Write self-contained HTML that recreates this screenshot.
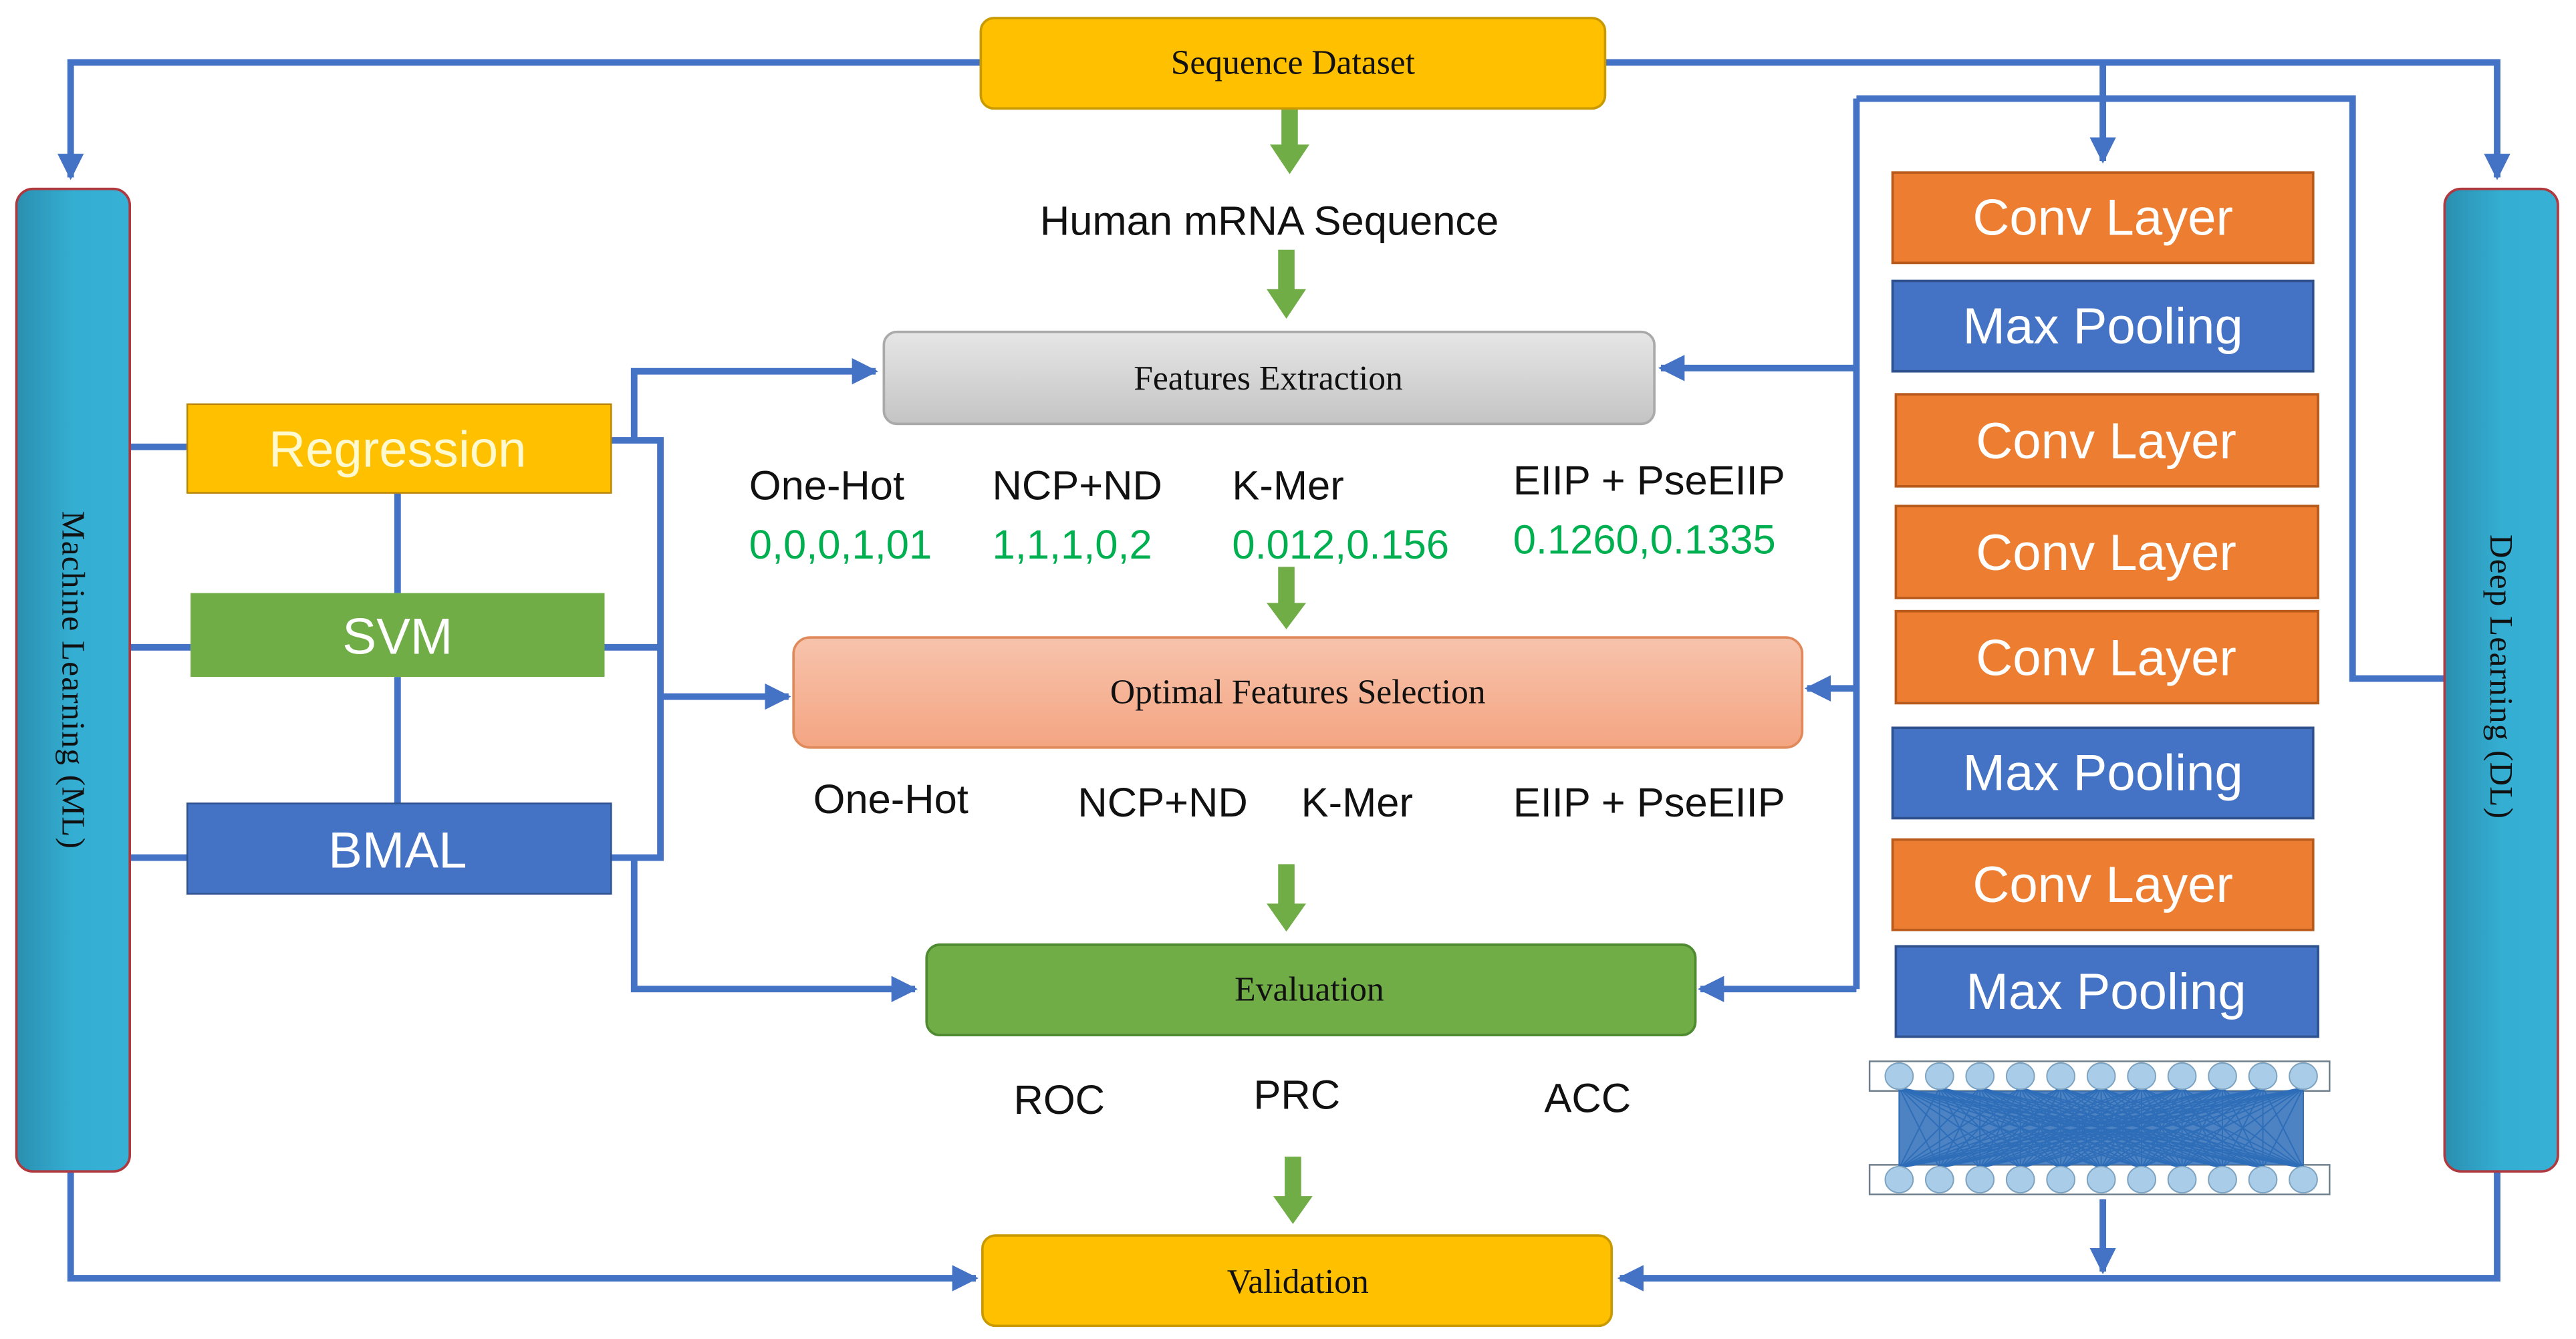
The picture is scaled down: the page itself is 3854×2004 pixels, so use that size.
<!DOCTYPE html>
<html><head><meta charset="utf-8"><style>html,body{margin:0;padding:0;background:#fff}svg{display:block}</style></head>
<body>
<svg id="s" width="3854" height="2004" viewBox="0 0 1568 815" preserveAspectRatio="none" xmlns="http://www.w3.org/2000/svg">
<defs>
<linearGradient id="teal" x1="0" x2="1" y1="0" y2="0"><stop offset="0" stop-color="#2a8fb0"/><stop offset="0.5" stop-color="#34aed2"/><stop offset="1" stop-color="#36b0d4"/></linearGradient>
<linearGradient id="gray" x1="0" x2="0" y1="0" y2="1"><stop offset="0" stop-color="#e6e6e6"/><stop offset="1" stop-color="#c4c4c4"/></linearGradient>
<linearGradient id="sal" x1="0" x2="0" y1="0" y2="1"><stop offset="0" stop-color="#f7c3ac"/><stop offset="1" stop-color="#f4a582"/></linearGradient>
<marker id="ab" viewBox="0 0 10 10" refX="9" refY="5" markerWidth="4" markerHeight="4" orient="auto" markerUnits="strokeWidth"><path d="M0,0L10,5L0,10z" fill="#4472c4"/></marker>
</defs>
<g fill="none" stroke="#4472c4" stroke-width="4">
<!-- top connectors -->
<path d="M597,38H43V108" marker-end="url(#ab)"/>
<path d="M977,38H1520V108" marker-end="url(#ab)"/>
<path d="M1280,38V98" marker-end="url(#ab)"/>
<!-- bottom -->
<path d="M43,713V778H594" marker-end="url(#ab)"/>
<path d="M1520,713V778H986" marker-end="url(#ab)"/>
<path d="M1280,730V774" marker-end="url(#ab)"/>
<!-- ML side -->
<path d="M79,272H114M79,394H116M79,522H114"/>
<path d="M242,300V361M242,412V489"/>
<path d="M372,268H402V522H372M368,394H402"/>
<path d="M402,424H480" marker-end="url(#ab)"/>
<path d="M386,268V226H533" marker-end="url(#ab)"/>
<path d="M386,522V602H557" marker-end="url(#ab)"/>
<!-- DL side -->
<path d="M1130,60V602"/>
<path d="M1130,60H1432V413H1488"/>
<path d="M1130,224H1011" marker-end="url(#ab)"/>
<path d="M1130,419H1100" marker-end="url(#ab)"/>
<path d="M1130,602H1035" marker-end="url(#ab)"/>
</g>
<!-- green arrows -->
<g fill="#70ad47">
<path d="M780,66h10v22h7l-12,18l-12,-18h7z"/>
<path d="M778,152h10v24h7l-12,18l-12,-18h7z"/>
<path d="M778,345h10v22h7l-12,16l-12,-16h7z"/>
<path d="M778,526h10v24h7l-12,17l-12,-17h7z"/>
<path d="M782,704h10v24h7l-12,17l-12,-17h7z"/>
</g>
<!-- bars -->
<rect x="10" y="115" width="69" height="598" rx="10" fill="url(#teal)" stroke="#b0383f" stroke-width="1.5"/>
<rect x="1488" y="115" width="69" height="598" rx="10" fill="url(#teal)" stroke="#b0383f" stroke-width="1.5"/>
<text transform="translate(38,414) rotate(90)" text-anchor="middle" font-family="Liberation Serif,serif" font-size="20" fill="#111" letter-spacing="0.5">Machine  Learning  (ML)</text>
<text transform="translate(1516,412) rotate(90)" text-anchor="middle" font-family="Liberation Serif,serif" font-size="20" fill="#111" letter-spacing="0.5">Deep  Learning  (DL)</text>
<!-- central boxes -->
<rect x="597" y="11" width="380" height="55" rx="8" fill="#ffc000" stroke="#c99a00" stroke-width="1.5"/>
<rect x="538" y="202" width="469" height="56" rx="8" fill="url(#gray)" stroke="#aaa" stroke-width="1.5"/>
<rect x="483" y="388" width="614" height="67" rx="10" fill="url(#sal)" stroke="#e08a5c" stroke-width="1.5"/>
<rect x="564" y="575" width="468" height="55" rx="8" fill="#70ad47" stroke="#4f8a30" stroke-width="1.5"/>
<rect x="598" y="752" width="383" height="55" rx="8" fill="#ffc000" stroke="#c99a00" stroke-width="1.5"/>
<g font-family="Liberation Serif,serif" font-size="21" fill="#111" text-anchor="middle">
<text x="787" y="45">Sequence Dataset</text>
<text x="772" y="237">Features Extraction</text>
<text x="790" y="428">Optimal  Features  Selection</text>
<text x="797" y="609">Evaluation</text>
<text x="790" y="787">Validation</text>
</g>
<!-- ML boxes -->
<rect x="114" y="246" width="258" height="54" fill="#ffc000" stroke="#b8860b" stroke-width="1"/>
<rect x="116" y="361" width="252" height="51" fill="#70ad47"/>
<rect x="114" y="489" width="258" height="55" fill="#4472c4" stroke="#2f528f" stroke-width="1"/>
<g font-family="Liberation Sans Narrow,Liberation Sans,sans-serif" font-size="31" text-anchor="middle">
<text x="242" y="284" fill="#fff9d0">Regression</text>
<text x="242" y="398" fill="#fff">SVM</text>
<text x="242" y="528" fill="#fff">BMAL</text>
</g>
<!-- CNN stack -->
<g stroke-width="1.5">
<rect x="1152" y="105" width="256" height="55" fill="#ed7d31" stroke="#b85a1c"/>
<rect x="1152" y="171" width="256" height="55" fill="#4472c4" stroke="#2f528f"/>
<rect x="1154" y="240" width="257" height="56" fill="#ed7d31" stroke="#b85a1c"/>
<rect x="1154" y="308" width="257" height="56" fill="#ed7d31" stroke="#b85a1c"/>
<rect x="1154" y="372" width="257" height="56" fill="#ed7d31" stroke="#b85a1c"/>
<rect x="1152" y="443" width="256" height="55" fill="#4472c4" stroke="#2f528f"/>
<rect x="1152" y="511" width="256" height="55" fill="#ed7d31" stroke="#b85a1c"/>
<rect x="1154" y="576" width="257" height="55" fill="#4472c4" stroke="#2f528f"/>
</g>
<g font-family="Liberation Sans Narrow,Liberation Sans,sans-serif" font-size="31" fill="#fff" text-anchor="middle">
<text x="1280" y="143">Conv Layer</text>
<text x="1280" y="209">Max Pooling</text>
<text x="1282" y="279">Conv Layer</text>
<text x="1282" y="347">Conv Layer</text>
<text x="1282" y="411">Conv Layer</text>
<text x="1280" y="481">Max Pooling</text>
<text x="1280" y="549">Conv Layer</text>
<text x="1282" y="614">Max Pooling</text>
</g>
<!-- NN -->
<g id="nn">
<rect x="1138" y="646" width="280" height="18" fill="#fff" stroke="#6d7f8c" stroke-width="1"/>
<rect x="1138" y="709" width="280" height="18" fill="#fff" stroke="#6d7f8c" stroke-width="1"/>
<rect x="1156" y="664" width="246" height="45" fill="#2e6db8" opacity="0.85"/>
<g id="lines" stroke="#2e6db8" stroke-width="0.8"></g>
<g id="circ" fill="#a9cde8" stroke="#7ea3c0" stroke-width="0.8"></g>
</g>
<!-- labels -->
<g font-family="Liberation Sans Narrow,Liberation Sans,sans-serif" font-size="25" fill="#111">
<text x="633" y="143">Human mRNA Sequence</text>
<text x="456" y="304">One-Hot</text>
<text x="604" y="304">NCP+ND</text>
<text x="750" y="304">K-Mer</text>
<text x="921" y="301">EIIP + PseEIIP</text>
<text x="495" y="495">One-Hot</text>
<text x="656" y="497">NCP+ND</text>
<text x="792" y="497">K-Mer</text>
<text x="921" y="497">EIIP + PseEIIP</text>
<text x="617" y="678">ROC</text>
<text x="763" y="675">PRC</text>
<text x="940" y="677">ACC</text>
</g>
<g font-family="Liberation Sans Narrow,Liberation Sans,sans-serif" font-size="25" fill="#00b050">
<text x="456" y="340">0,0,0,1,01</text>
<text x="604" y="340">1,1,1,0,2</text>
<text x="750" y="340">0.012,0.156</text>
<text x="921" y="337">0.1260,0.1335</text>
</g>
</svg>
<script>
var ns="http://www.w3.org/2000/svg",L=document.getElementById("lines"),C=document.getElementById("circ");
for(var i=0;i<11;i++){var xa=1156+i*24.6;for(var j=0;j<11;j++){var xb=1156+j*24.6;var l=document.createElementNS(ns,"line");l.setAttribute("x1",xa);l.setAttribute("y1",662);l.setAttribute("x2",xb);l.setAttribute("y2",711);L.appendChild(l);}
[655,718].forEach(function(y){var c=document.createElementNS(ns,"ellipse");c.setAttribute("cx",xa);c.setAttribute("cy",y);c.setAttribute("rx",8.5);c.setAttribute("ry",8);C.appendChild(c);});}
</script>
</body></html>
